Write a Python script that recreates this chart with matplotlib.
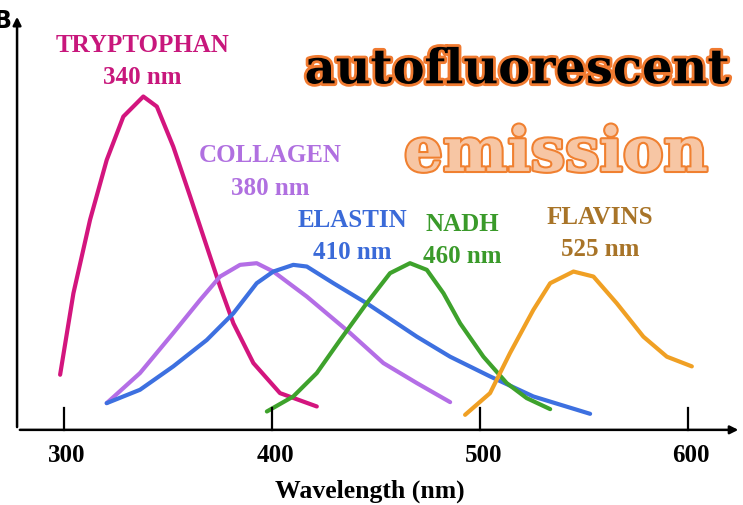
import matplotlib.pyplot as plt
import matplotlib.patheffects as pe

# emission spectra (wavelength nm, relative intensity)
trp_wl = [298.1, 304.5, 312.5, 320.5, 328.5, 338.1, 344.6, 352.5, 360.6, 368.6, 375.0, 381.4, 391.0, 403.8, 421.5]
trp_i = [16.5, 40.9, 62.9, 80.8, 93.8, 99.8, 96.8, 84.8, 69.9, 54.9, 42.9, 31.9, 20.0, 11.0, 7.0]

col_wl = [320.5, 336.5, 352.5, 365.4, 375.0, 384.6, 392.6, 400.6, 416.7, 437.5, 453.5, 469.6, 485.6]
col_i = [8.0, 17.0, 29.0, 38.9, 45.9, 49.4, 49.9, 47.4, 39.9, 29.0, 20.0, 14.0, 8.3]

ela_wl = [320.5, 336.5, 352.5, 368.6, 381.4, 392.6, 400.6, 410.2, 416.7, 429.5, 445.5, 469.6, 485.6, 504.8, 525.6, 552.9]
ela_i = [8.0, 12.0, 19.0, 26.9, 34.9, 43.9, 47.4, 49.4, 48.9, 43.9, 37.9, 27.9, 21.9, 16.0, 10.0, 4.8]

nadh_wl = [397.5, 410.2, 421.5, 432.7, 445.5, 456.7, 466.3, 474.4, 482.4, 490.4, 501.6, 512.8, 522.4, 533.7]
nadh_i = [5.5, 10.0, 17.0, 26.9, 37.9, 46.9, 49.9, 47.9, 40.9, 31.9, 21.9, 14.0, 9.5, 6.2]

fla_wl = [492.8, 504.8, 514.4, 525.6, 533.7, 544.9, 554.5, 565.7, 578.5, 589.8, 601.8]
fla_i = [4.5, 11.0, 23.0, 35.9, 43.9, 47.4, 45.9, 37.9, 27.9, 21.9, 19.0]

names = ['TRYPTOPHAN', 'COLLAGEN', 'ELASTIN', 'NADH', 'FLAVINS']
peaks = ['340 nm', '380 nm', '410 nm', '460 nm', '525 nm']
colors = ['#d3157e', '#b46ee6', '#3d70e0', '#3ea22c', '#f0a024']
text_colors = ['#c8177c', '#b070e0', '#3a6ad8', '#3a9a2a', '#a87428']
label_pos = [(337.5, 115.0), (399.0, 82.0), (438.5, 62.6), (491.3, 61.4), (557.7, 63.5)]

ticks = [300, 400, 500, 600]

fig = plt.figure(figsize=(7.43, 5.05), dpi=100)
ax = fig.add_axes([0, 0, 1, 1])
ax.set_xlim(269.2, 626.4)
ax.set_ylim(-22.5, 128.7)
ax.axis('off')

series = [(trp_wl, trp_i), (col_wl, col_i), (ela_wl, ela_i), (nadh_wl, nadh_i), (fla_wl, fla_i)]
for (wl, inten), c in zip(series, colors):
    ax.plot(wl, inten, color=c, lw=3, solid_capstyle='round', solid_joinstyle='round')

for name, pk, tc, (x, y) in zip(names, peaks, text_colors, label_pos):
    ax.text(x, y, name, color=tc, fontsize=18, fontweight='bold',
            family='Liberation Serif', ha='center', va='center')
    ax.text(x, y - 9.6, pk, color=tc, fontsize=18, fontweight='bold',
            family='Liberation Serif', ha='center', va='center')

# axes drawn by hand, with arrows
ax.annotate('', xy=(277.4, 124.5), xytext=(277.4, 0),
            arrowprops=dict(arrowstyle='-|>', color='black', lw=1.8, mutation_scale=12))
ax.annotate('', xy=(625.5, 0), xytext=(277.4, 0),
            arrowprops=dict(arrowstyle='-|>', color='black', lw=1.8, mutation_scale=12))
for t in ticks:
    ax.plot([t, t], [0, 6.6], color='black', lw=1.6)
    ax.text(t + 1.5, -7.8, str(t), fontsize=18, fontweight='bold',
            family='Liberation Serif', ha='center', va='center')
ax.text(447, -18.3, 'Wavelength (nm)', fontsize=18.5, fontweight='bold',
        family='Liberation Serif', ha='center', va='center')

ax.text(275.0, 122.5, 'B', fontsize=17, fontweight='bold', family='DejaVu Sans',
        ha='right', va='center')

ax.text(517.8, 107.8, 'autofluorescent', fontsize=34.5, fontweight='bold',
        family='DejaVu Serif', color='black', ha='center', va='center',
        path_effects=[pe.withStroke(linewidth=4, foreground='#f07a30')])
ax.text(536.5, 82.6, 'emission', fontsize=44, fontweight='bold',
        family='DejaVu Serif', color='#f7c6a4', ha='center', va='center',
        path_effects=[pe.withStroke(linewidth=3, foreground='#f08030')])

fig.savefig('out.png', dpi=100)
